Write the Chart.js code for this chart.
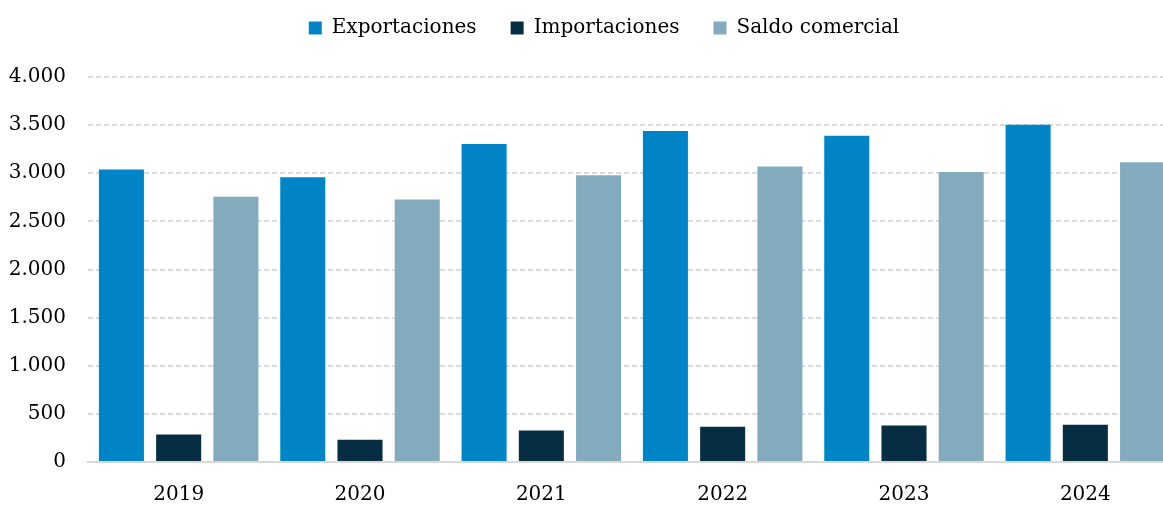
<!DOCTYPE html>
<html>
<head>
<meta charset="utf-8">
<script src="https://cdn.jsdelivr.net/npm/chart.js@4/dist/chart.umd.min.js"></script>
<style>
  html, body { margin: 0; padding: 0; background: #fff; overflow: hidden; }
  #wrap { width: 1176px; height: 505px; position: relative; }
</style>
</head>
<body>
<div id="wrap"><canvas id="c"></canvas></div>
<script>
const categories = ['2019', '2020', '2021', '2022', '2023', '2024'];
const exportaciones = [3040, 2958, 3304, 3438, 3390, 3503];
const importaciones = [285, 230, 326, 367, 378, 388];
const saldoComercial = [2755, 2728, 2978, 3071, 3012, 3115];
const seriesNames = ['Exportaciones', 'Importaciones', 'Saldo comercial'];
const yTicks = [0, 500, 1000, 1500, 2000, 2500, 3000, 3500, 4000];

const colors = ['#0084c8', '#072d42', '#84abbd'];
const FONT = 'DejaVu Serif';

function fmt(v) {
  return String(v).replace(/\B(?=(\d{3})+(?!\d))/g, '.');
}

const legendSpacer = {
  id: 'legendSpacer',
  beforeInit(chart) {
    const orig = chart.legend.fit;
    chart.legend.fit = function () {
      orig.bind(chart.legend)();
      this.height += 29;
    };
  },
  afterLayout(chart) {
    chart.legend.left += 12;
    chart.legend.right += 12;
  }
};

new Chart(document.getElementById('c'), {
  type: 'bar',
  data: {
    labels: categories,
    datasets: [exportaciones, importaciones, saldoComercial].map((d, i) => ({
      label: seriesNames[i],
      data: d,
      backgroundColor: colors[i],
      borderWidth: 0,
      categoryPercentage: 0.947,
      barPercentage: 0.787
    }))
  },
  plugins: [legendSpacer],
  options: {
    responsive: true,
    maintainAspectRatio: false,
    animation: false,
    layout: { padding: { left: 8, right: 0, top: -16, bottom: 0 } },
    plugins: {
      tooltip: { enabled: false },
      legend: {
        position: 'top',
        labels: {
          boxWidth: 13,
          boxHeight: 13,
          padding: 34,
          color: '#000',
          font: { family: FONT, size: 20 }
        }
      }
    },
    scales: {
      x: {
        afterFit: (scale) => { scale.height = 43; },
        grid: { display: false, drawTicks: false },
        border: { display: true, color: '#d9d9d9', width: 2 },
        ticks: {
          color: '#000',
          padding: 21,
          font: { family: FONT, size: 20 }
        }
      },
      y: {
        min: 0,
        max: 4000,
        afterBuildTicks: (scale) => { scale.ticks = yTicks.map(v => ({ value: v })); },
        afterFit: (scale) => { scale.width = 80; },
        grid: {
          color: (ctx) => ctx.tick && ctx.tick.value === 0 ? 'rgba(0,0,0,0)' : '#d9d9d9',
          lineWidth: 2,
          drawTicks: false
        },
        border: { display: false, dash: [5, 3] },
        ticks: {
          color: '#000',
          padding: 22,
          font: { family: FONT, size: 20 },
          callback: (v) => fmt(v)
        }
      }
    }
  }
});
</script>
</body>
</html>
